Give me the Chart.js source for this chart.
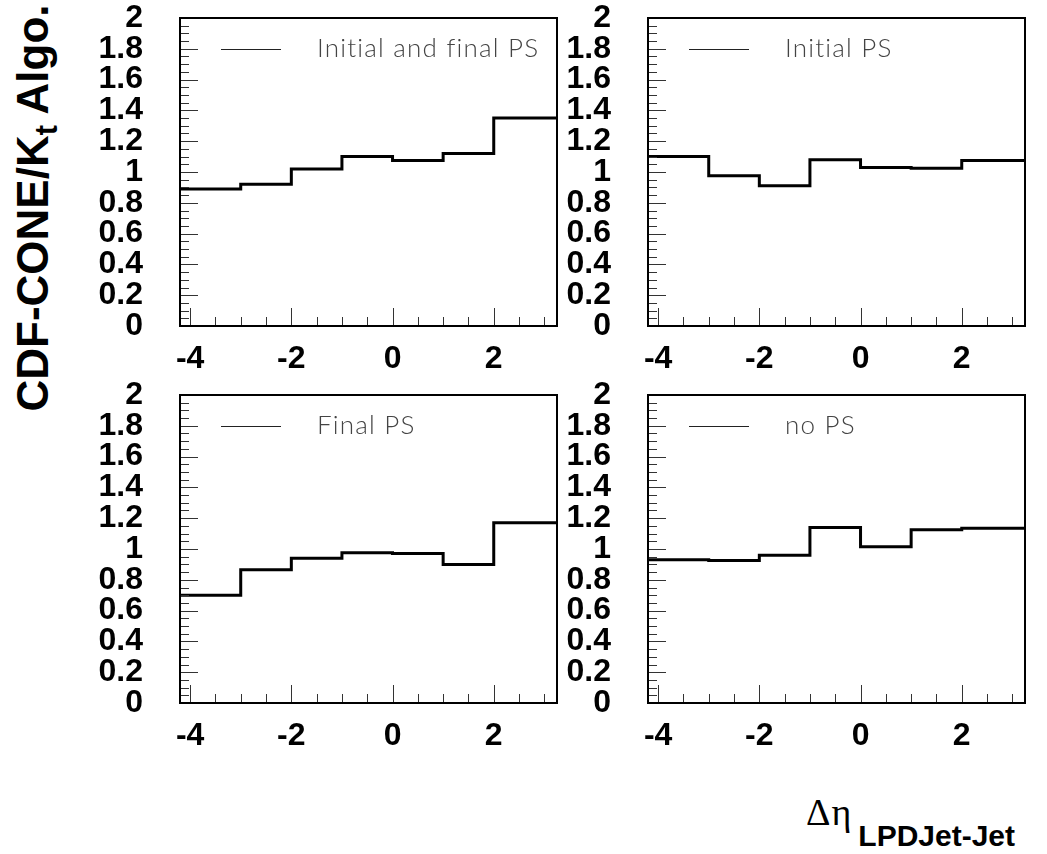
<!DOCTYPE html>
<html>
<head>
<meta charset="utf-8">
<script src="https://cdn.jsdelivr.net/npm/chart.js@4"></script>
<style>
  body { margin: 0; background: #fff; }
  #page { position: relative; width: 1047px; height: 854px; overflow: hidden; }
  canvas { position: absolute; }
  #ytitle {
    position: absolute; left: 33px; top: 208px;
    transform: translate(-50%, -50%) rotate(-90deg);
    font: bold 44px "Liberation Sans", Arial, sans-serif;
    white-space: nowrap; line-height: 1;
  }
  #ytitle sub { font-size: 0.7em; vertical-align: -0.3em; line-height: 0; }
  #xtitle {
    position: absolute; left: 806px; top: 790px;
    white-space: nowrap; line-height: 1;
  }
  #xtitle .sym { font: 38px "Liberation Serif", "Times New Roman", serif; letter-spacing: 1px; }
  #xtitle .sub { font: bold 30px "Liberation Sans", Arial, sans-serif; position: relative; top: 21px; margin-left: 6px; }
</style>
</head>
<body>
<div id="page">
  <canvas id="c0" width="487" height="388" style="left:80px;top:-2px"></canvas>
  <canvas id="c1" width="487" height="388" style="left:548px;top:-2px"></canvas>
  <canvas id="c2" width="487" height="388" style="left:80px;top:375px"></canvas>
  <canvas id="c3" width="487" height="388" style="left:548px;top:375px"></canvas>
  <div id="ytitle">CDF-CONE/K<sub>t</sub> Algo.</div>
  <div id="xtitle"><span class="sym">Δη</span><span class="sub">LPDJet-Jet</span></div>
</div>
<script>
// ビンの境界 (Δη).
const binEdges = [-4.2, -3, -2, -1, 0, 1, 2, 3.25];

// 各パネルの値 (CDF-CONE / Kt).
const initialAndFinalPS = [0.89, 0.92, 1.02, 1.10, 1.075, 1.12, 1.35];
const initialPS         = [1.10, 0.975, 0.91, 1.08, 1.03, 1.025, 1.075];
const finalPS           = [0.70, 0.865, 0.94, 0.975, 0.97, 0.90, 1.17];
const noPS              = [0.93, 0.925, 0.96, 1.14, 1.015, 1.125, 1.135];

const panelLabels = ['Initial and final PS', 'Initial PS', 'Final PS', 'no PS'];
const panelValues = [initialAndFinalPS, initialPS, finalPS, noPS];

// 目盛り.
const xTickValues = [-4, -2, 0, 2];
const yTickValues = [0, 0.2, 0.4, 0.6, 0.8, 1, 1.2, 1.4, 1.6, 1.8, 2];
const xMin = -4.2, xMax = 3.25;
const yMin = 0, yMax = 2;

const tickFont = { family: '"Liberation Sans", Arial, sans-serif', size: 32, weight: 'bold' };

// 枠と内向きの目盛り.
const frameTicks = {
  id: 'frameTicks',
  afterDatasetsDraw(chart) {
    const ctx = chart.ctx;
    const a = chart.chartArea;
    const xs = chart.scales.x, ys = chart.scales.y;
    ctx.save();
    ctx.strokeStyle = '#333';
    ctx.lineWidth = 1;
    ctx.beginPath();
    for (let v = yMin; v <= yMax + 1e-9; v += 0.05) {
      const major = Math.abs(v / 0.2 - Math.round(v / 0.2)) < 1e-6;
      const py = Math.round(ys.getPixelForValue(v)) + 0.5;
      ctx.moveTo(a.left, py);
      ctx.lineTo(a.left + (major ? 18 : 9), py);
    }
    for (let v = -4; v <= xMax; v += 0.5) {
      const major = xTickValues.includes(v);
      const px = Math.round(xs.getPixelForValue(v)) + 0.5;
      ctx.moveTo(px, a.bottom);
      ctx.lineTo(px, a.bottom - (major ? 18 : 9));
    }
    ctx.stroke();
    ctx.strokeStyle = '#000';
    ctx.lineWidth = 2;
    ctx.strokeRect(a.left, a.top, a.right - a.left, a.bottom - a.top);
    ctx.restore();
  }
};

// パネル内の凡例.
const innerLegend = {
  id: 'innerLegend',
  afterDraw(chart) {
    const ctx = chart.ctx;
    const a = chart.chartArea;
    const y = a.top + 31;
    ctx.save();
    ctx.strokeStyle = '#222';
    ctx.lineWidth = 1;
    ctx.beginPath();
    ctx.moveTo(a.left + 41, y + 0.5);
    ctx.lineTo(a.left + 101, y + 0.5);
    ctx.stroke();
    ctx.fillStyle = '#444';
    ctx.font = '300 26px Lato, "Open Sans", sans-serif';
    ctx.letterSpacing = '1.2px';
    ctx.textBaseline = 'middle';
    ctx.fillText(chart.data.datasets[0].label, a.left + 137, y);
    ctx.restore();
  }
};

function makePanel(canvasId, label, values) {
  // 最後のビンの右端まで伸ばす.
  const points = binEdges.map(function(x, i) {
    return { x: x, y: values[Math.min(i, values.length - 1)] };
  });
  return new Chart(document.getElementById(canvasId), {
    type: 'line',
    data: {
      datasets: [{
        label: label,
        data: points,
        stepped: 'before',
        borderColor: '#000',
        borderWidth: 3,
        pointRadius: 0,
        fill: false,
      }],
    },
    options: {
      responsive: false,
      animation: false,
      layout: { padding: { top: 20, right: 10, left: 0, bottom: 0 } },
      plugins: {
        legend: { display: false },
        tooltip: { enabled: false },
      },
      scales: {
        x: {
          type: 'linear',
          min: xMin, max: xMax,
          grid: { display: false, drawTicks: false },
          border: { display: false },
          ticks: { font: tickFont, color: '#000', padding: 14, maxRotation: 0, autoSkip: false },
          afterBuildTicks: function(axis) { axis.ticks = xTickValues.map(v => ({ value: v })); },
          afterFit: function(axis) {
            axis.height = 60;
            axis.paddingLeft = 0;
            axis.paddingRight = 0;
          },
        },
        y: {
          type: 'linear',
          min: yMin, max: yMax,
          grid: { display: false, drawTicks: false },
          border: { display: false },
          ticks: {
            font: tickFont, color: '#000', padding: 37, autoSkip: false,
            callback: v => String(+v.toFixed(2)),
          },
          afterBuildTicks: function(axis) { axis.ticks = yTickValues.map(v => ({ value: v })); },
          afterFit: function(axis) {
            axis.width = 100;
            axis.paddingTop = 0;
            axis.paddingBottom = 0;
          },
        },
      },
    },
    plugins: [frameTicks, innerLegend],
  });
}

panelValues.forEach(function(values, i) {
  makePanel('c' + i, panelLabels[i], values);
});
</script>
</body>
</html>
